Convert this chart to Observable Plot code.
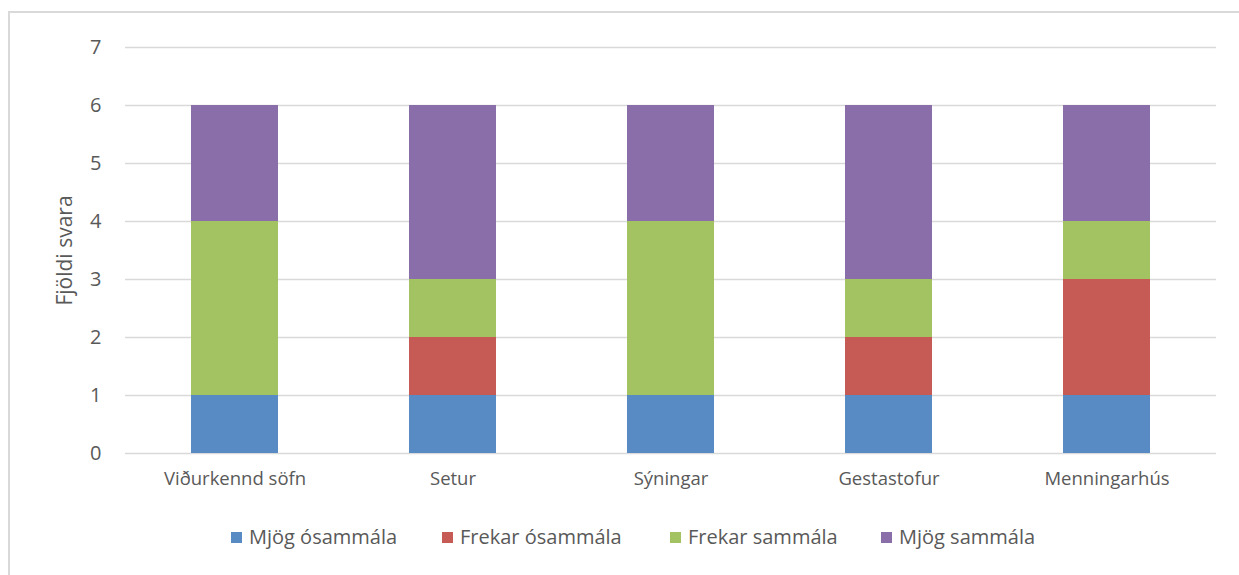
<!DOCTYPE html>
<html>
<head>
<meta charset="utf-8">
<script src="https://cdn.jsdelivr.net/npm/d3@7"></script>
<script src="https://cdn.jsdelivr.net/npm/@observablehq/plot@0.6"></script>
<style>
  html, body { margin: 0; padding: 0; background: #fff; width: 1239px; height: 575px; overflow: hidden; }
  #frame { position: absolute; left: 8px; top: 11px; width: 1260px; height: 600px; border: 2px solid #d9d9d9; box-sizing: border-box; }
  #chart { position: absolute; left: 0; top: 0; }
  #legend { position: absolute; top: 522px; left: 231px; font-family: "Open Sans", sans-serif; font-size: 20px; color: #595959; }
  .item { display: flex; align-items: center; position: absolute; white-space: nowrap; line-height: 30px; }
  .sw { width: 11px; height: 11px; margin-right: 7px; }
</style>
</head>
<body>
<div id="frame"></div>
<div id="chart"></div>
<div id="legend"></div>
<script>
const categories = ["Viðurkennd söfn", "Setur", "Sýningar", "Gestastofur", "Menningarhús"];
const seriesNames = ["Mjög ósammála", "Frekar ósammála", "Frekar sammála", "Mjög sammála"];
const mjogOsammala   = [1, 1, 1, 1, 1];
const frekarOsammala = [0, 1, 0, 1, 2];
const frekarSammala  = [3, 1, 3, 1, 1];
const mjogSammala    = [2, 3, 2, 3, 2];
const colors = ["#588ac3", "#c65a55", "#a3c262", "#8a6eaa"];
const yTicks = [0, 1, 2, 3, 4, 5, 6, 7];
const legendX = [0, 211, 439, 650];

const seriesValues = [mjogOsammala, frekarOsammala, frekarSammala, mjogSammala];
const rows = [];
seriesNames.forEach((s, si) => {
  categories.forEach((c, ci) => rows.push({category: c, series: s, value: seriesValues[si][ci]}));
});

const chart = Plot.plot({
  width: 1239,
  height: 490,
  marginLeft: 125,
  marginRight: 23,
  marginTop: 47,
  marginBottom: 37,
  style: {fontFamily: "'Open Sans', sans-serif", color: "#595959", background: "transparent"},
  x: {domain: categories, paddingInner: 0.6, paddingOuter: 0.3, label: null},
  y: {domain: [0, 7], ticks: yTicks, label: null},
  color: {domain: seriesNames, range: colors},
  marks: [
    Plot.ruleY(yTicks, {stroke: "#d9d9d9", strokeWidth: 1.5}),
    Plot.barY(rows, Plot.stackY({x: "category", y: "value", fill: "series", order: seriesNames})),
    Plot.axisY({ticks: yTicks, tickSize: 0, tickPadding: 24, fontSize: 20, label: null, tickFormat: d => d}),
    Plot.axisX({tickSize: 0, tickPadding: 18, fontSize: 18.5, label: null}),
    Plot.text(["Fjöldi svara"], {frameAnchor: "left", dx: -60, rotate: -90, textAnchor: "middle", fontSize: 21, letterSpacing: "0.3px", fill: "#595959"})
  ]
});
document.getElementById("chart").appendChild(chart);

const legend = document.getElementById("legend");
seriesNames.forEach((s, i) => {
  const item = document.createElement("div");
  item.className = "item";
  item.style.left = legendX[i] + "px";
  const sw = document.createElement("span");
  sw.className = "sw";
  sw.style.background = colors[i];
  const t = document.createElement("span");
  t.textContent = s;
  item.appendChild(sw);
  item.appendChild(t);
  legend.appendChild(item);
});
</script>
</body>
</html>
